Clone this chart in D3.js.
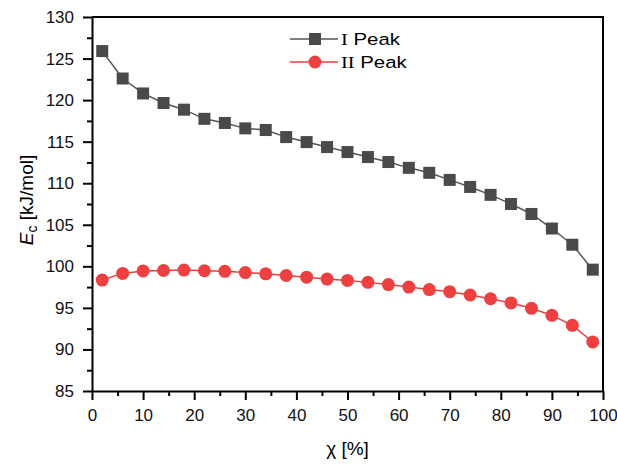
<!DOCTYPE html>
<html>
<head>
<meta charset="utf-8">
<script src="https://cdn.jsdelivr.net/npm/d3@7"></script>
<style>
  body { margin: 0; background: #fff; }
  svg text { font-family: Arial, "Liberation Sans", sans-serif; }
</style>
</head>
<body>
<div class="container"></div>
<script>
// chi [%]
const chi = [2, 6, 10, 14, 18, 22, 26, 30, 34, 38, 42, 46, 50, 54, 58, 62, 66, 70, 74, 78, 82, 86, 90, 94, 98];
// E_c [kJ/mol]
const peak1 = [125.9, 122.6, 120.8, 119.65, 118.85, 117.75, 117.25, 116.6, 116.4, 115.55, 114.95, 114.35, 113.75,
    113.15, 112.55, 111.85, 111.25, 110.4, 109.55, 108.6, 107.5, 106.3, 104.55, 102.6, 99.6];
const peak2 = [98.35, 99.15, 99.45, 99.5, 99.55, 99.47, 99.4, 99.25, 99.1, 98.9, 98.7, 98.47, 98.3,
    98.07, 97.8, 97.5, 97.2, 96.95, 96.55, 96.1, 95.6, 94.95, 94.1, 92.9, 90.9];
const xTicks = [0, 10, 20, 30, 40, 50, 60, 70, 80, 90, 100];
const yTicks = [85, 90, 95, 100, 105, 110, 115, 120, 125, 130];
const seriesNames = ["I Peak", "II Peak"];

const width = 617, height = 464,
    margin = {top: 17, right: 14, bottom: 73, left: 92};

const svg = d3.select('.container')
    .append('svg')
    .attr('width', width)
    .attr('height', height);

const x = d3.scaleLinear().domain([0, 100]).range([margin.left, width - margin.right]);
const y = d3.scaleLinear().domain([85, 130]).range([height - margin.bottom, margin.top]);

// frame (top and right)
svg.append('path')
    .attr('d', `M${x(0)},${y(130)}H${x(100)}V${y(85)}`)
    .attr('fill', 'none')
    .attr('stroke', '#000')
    .attr('stroke-width', 2);

// minor ticks
svg.append('g')
    .attr('transform', `translate(0,${y(85)})`)
    .call(d3.axisBottom(x).tickValues(d3.range(5, 100, 10)).tickSize(5).tickFormat(''))
    .call(g => g.select('.domain').remove())
    .call(g => g.selectAll('line').attr('stroke-width', 2));
svg.append('g')
    .attr('transform', `translate(${x(0)},0)`)
    .call(d3.axisLeft(y).tickValues(d3.range(87.5, 130, 5)).tickSize(5).tickFormat(''))
    .call(g => g.select('.domain').remove())
    .call(g => g.selectAll('line').attr('stroke-width', 2));

const xAxis = svg.append('g')
    .attr('transform', `translate(0,${y(85)})`)
    .call(d3.axisBottom(x).tickValues(xTicks).tickSize(9).tickSizeOuter(0).tickPadding(9));
const yAxis = svg.append('g')
    .attr('transform', `translate(${x(0)},0)`)
    .call(d3.axisLeft(y).tickValues(yTicks).tickSize(9).tickSizeOuter(0).tickPadding(9));

[xAxis, yAxis].forEach(g => {
    g.select('.domain').attr('stroke-width', 2);
    g.selectAll('line').attr('stroke-width', 2);
    g.selectAll('text').attr('font-size', 17).attr('fill', '#111')
        .style('font-family', 'Arial, "Liberation Sans", sans-serif');
});

// axis titles
svg.append('text')
    .attr('x', x(50))
    .attr('y', 455)
    .attr('text-anchor', 'middle')
    .attr('font-size', 19)
    .text('χ [%]');

const yl = svg.append('text')
    .attr('transform', `translate(33,${(y(85) + y(130)) / 2 - 4}) rotate(-90)`)
    .attr('text-anchor', 'middle')
    .attr('font-size', 19);
yl.append('tspan').attr('font-style', 'italic').text('E');
yl.append('tspan').attr('font-size', 14).attr('dy', 4).text('c');
yl.append('tspan').attr('dy', -4).text(' [kJ/mol]');

// series
const line = d3.line().x((d, i) => x(chi[i])).y(d => y(d));

svg.append('path').datum(peak1)
    .attr('d', line).attr('fill', 'none').attr('stroke', '#555').attr('stroke-width', 1.5);
svg.append('path').datum(peak2)
    .attr('d', line).attr('fill', 'none').attr('stroke', '#ee3c3c').attr('stroke-width', 1.5);

const sq = 12;
svg.selectAll('.sq').data(peak1).enter()
    .append('rect').attr('class', 'sq')
    .attr('x', (d, i) => x(chi[i]) - sq / 2)
    .attr('y', d => y(d) - sq / 2)
    .attr('width', sq).attr('height', sq)
    .attr('fill', '#4a4a4a');

svg.selectAll('.dot').data(peak2).enter()
    .append('circle').attr('class', 'dot')
    .attr('cx', (d, i) => x(chi[i]))
    .attr('cy', d => y(d))
    .attr('r', 6.5)
    .attr('fill', '#ee4040');

// legend
const legend = svg.append('g');
const rows = [
    {name: seriesNames[0], stroke: '#555', fill: '#4a4a4a', shape: 'square', yy: 39},
    {name: seriesNames[1], stroke: '#ee3c3c', fill: '#ee4040', shape: 'circle', yy: 62}
];
rows.forEach(r => {
    legend.append('line')
        .attr('x1', 290).attr('x2', 338).attr('y1', r.yy).attr('y2', r.yy)
        .attr('stroke', r.stroke).attr('stroke-width', 1.5);
    if (r.shape === 'square') {
        legend.append('rect').attr('x', 315 - sq / 2).attr('y', r.yy - sq / 2)
            .attr('width', sq).attr('height', sq).attr('fill', r.fill);
    } else {
        legend.append('circle').attr('cx', 315).attr('cy', r.yy).attr('r', 6.5).attr('fill', r.fill);
    }
    const parts = r.name.split(' ');
    const t = legend.append('text')
        .attr('transform', `translate(341,${r.yy + 6}) scale(1.2,1)`)
        .attr('font-size', 17);
    t.append('tspan').style('font-family', '"Liberation Serif", "Times New Roman", serif').text(parts[0]);
    t.append('tspan').text(' ' + parts[1]);
});
</script>
</body>
</html>
